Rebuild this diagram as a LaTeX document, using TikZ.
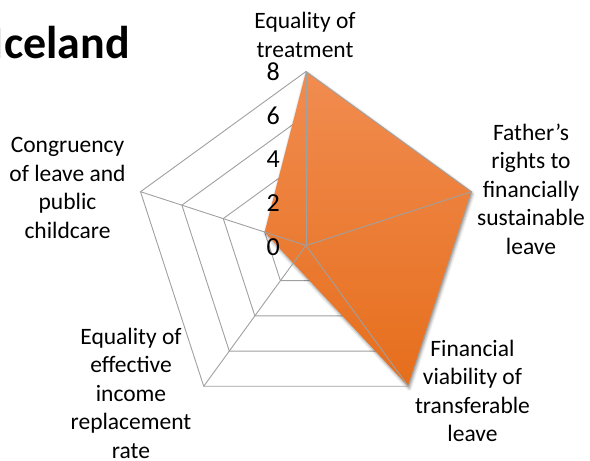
\documentclass[tikz,border=0pt]{standalone}
\usepackage{fontspec}
\setmainfont{Carlito}
\usetikzlibrary{calc,shadows.blur}
\definecolor{orTop}{RGB}{241,140,80}
\definecolor{orBot}{RGB}{230,110,28}
\definecolor{gridc}{RGB}{160,160,160}
\begin{document}
\begin{tikzpicture}[x=1pt,y=1pt,
  gridline/.style={draw=gridc, line width=0.9pt},
  lab/.style={align=center, font=\fontsize{23.5}{28.5}\selectfont, inner sep=0pt},
  ticklab/.style={font=\fontsize{26}{30}\selectfont, inner sep=0pt, anchor=east},
  datapoly/.style={top color=orTop, bottom color=orBot,
    blur shadow={shadow xshift=1pt, shadow yshift=-2pt, shadow blur radius=3pt, shadow opacity=45}}]
\useasboundingbox (0,0) rectangle (590,461);
\coordinate (C) at (306,215.5);
\foreach \k in {0,...,4}{
  \foreach \v in {2,4,6,8}{
    \coordinate (r\v-\k) at ($(C)+({90-72*\k}:{174*\v/8})$);
  }
}
\coordinate (d3) at ($(C)+({90-216}:21.75)$);
% inner rings
\foreach \v in {2,4,6}{
  \draw[gridline] (r\v-0)--(r\v-1)--(r\v-2)--(r\v-3)--(r\v-4)--cycle;
}
% data polygon
\path[datapoly] (r8-0)--(r8-1)--(r8-2)--(d3)--(r2-4)--cycle;
% outer ring and axes
\draw[gridline] (r8-0)--(r8-1)--(r8-2)--(r8-3)--(r8-4)--cycle;
\foreach \k in {0,...,4}{
  \draw[gridline] (C)--(r8-\k);
}
% tick labels
\node[ticklab] (t8) at (280,389) {8};
\node[ticklab] (t6) at (280,345) {6};
\node[ticklab] (t4) at (280,302) {4};
\node[ticklab] (t2) at (280,258) {2};
\node[ticklab] (t0) at (280,214) {0};
% title
\node[anchor=base west, inner sep=0pt, font=\fontsize{46}{50}\selectfont\bfseries] (title) at (-8.3,402) {Iceland};
% axis labels
\node[lab] (l0) at (305,426) {Equality of\\treatment};
\node[lab] (l1) at (531,272) {Father’s\\rights to\\financially\\sustainable\\leave};
\node[lab] (l2) at (472.5,70) {Financial\\viability of\\transferable\\leave};
\node[lab] (l4) at (67.5,273) {Congruency\\of leave and\\public\\childcare};
\node[lab] (l3) at (131,68) {Equality of\\effective\\income\\replacement\\rate};
\end{tikzpicture}
\end{document}
